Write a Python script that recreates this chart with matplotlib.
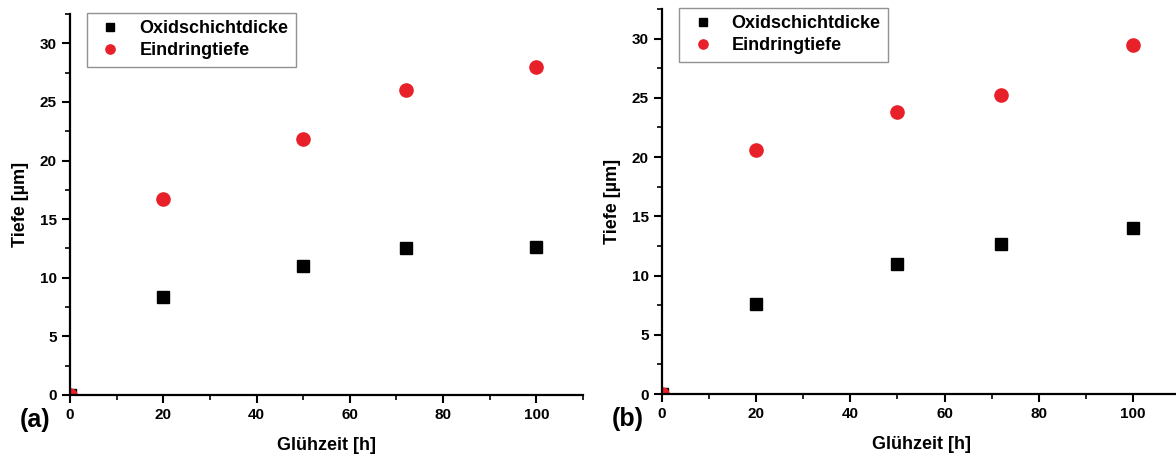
import matplotlib
matplotlib.use("Agg")
import matplotlib.pyplot as plt
from matplotlib.ticker import MultipleLocator

plt.rcParams['font.family'] = ['Liberation Sans', 'DejaVu Sans']

x_hours = [0, 20, 50, 72, 100]
oxid_a = [0, 8.4, 11.0, 12.5, 12.6]
eind_a = [0, 16.7, 21.8, 26.05, 28.0]
oxid_b = [0, 7.6, 11.0, 12.7, 14.0]
eind_b = [0, 20.6, 23.8, 25.2, 29.45]
panel_labels = ["(a)", "(b)"]
xlabel = "Glühzeit [h]"
ylabel = "Tiefe [µm]"
legend_labels = ["Oxidschichtdicke", "Eindringtiefe"]

fig = plt.figure(figsize=(11.76, 4.55), dpi=100)
positions = [
    [70/1176, 1-395/455, 513/1176, 381/455],
    [662/1176, 1-394/455, 518/1176, 385/455],
]
red = "#e8202a"

for i, (oxid, eind) in enumerate([(oxid_a, eind_a), (oxid_b, eind_b)]):
    ax = fig.add_axes(positions[i])
    ax.plot(x_hours, oxid, linestyle="none", marker="s", color="black",
            markersize=8, label=legend_labels[0])
    ax.plot(x_hours, eind, linestyle="none", marker="o", color=red,
            markersize=9.5, label=legend_labels[1])
    ax.set_xlim(0, 110)
    ax.set_ylim(0, 32.5)
    ax.xaxis.set_major_locator(MultipleLocator(20))
    ax.xaxis.set_minor_locator(MultipleLocator(10))
    ax.yaxis.set_major_locator(MultipleLocator(5))
    ax.yaxis.set_minor_locator(MultipleLocator(2.5))
    for s in ["top", "right"]:
        ax.spines[s].set_visible(False)
    for s in ["left", "bottom"]:
        ax.spines[s].set_linewidth(1.6)
    ax.tick_params(which="major", direction="out", length=6, width=1.5,
                   labelsize=11)
    ax.tick_params(which="minor", direction="out", length=3.5, width=1.2)
    for lab in ax.get_xticklabels() + ax.get_yticklabels():
        lab.set_fontweight("bold")
    ax.set_xlabel(xlabel, fontsize=13, fontweight="bold", labelpad=11)
    ax.set_ylabel(ylabel, fontsize=13, fontweight="bold", labelpad=8)
    leg = ax.legend(loc="upper left", bbox_to_anchor=(0.033, 1.003),
                    prop={"weight": "bold", "size": 13}, frameon=True,
                    fancybox=False, edgecolor="#777777", borderpad=0.4,
                    handlelength=1.8, handletextpad=0.7, labelspacing=0.3,
                    markerscale=0.7, borderaxespad=0.0)
    leg.get_frame().set_linewidth(1.0)
    ax.text(-0.097, -0.035, panel_labels[i], transform=ax.transAxes,
            fontsize=18, fontweight="bold", ha="left", va="top")

fig.savefig("out.png", dpi=100)
